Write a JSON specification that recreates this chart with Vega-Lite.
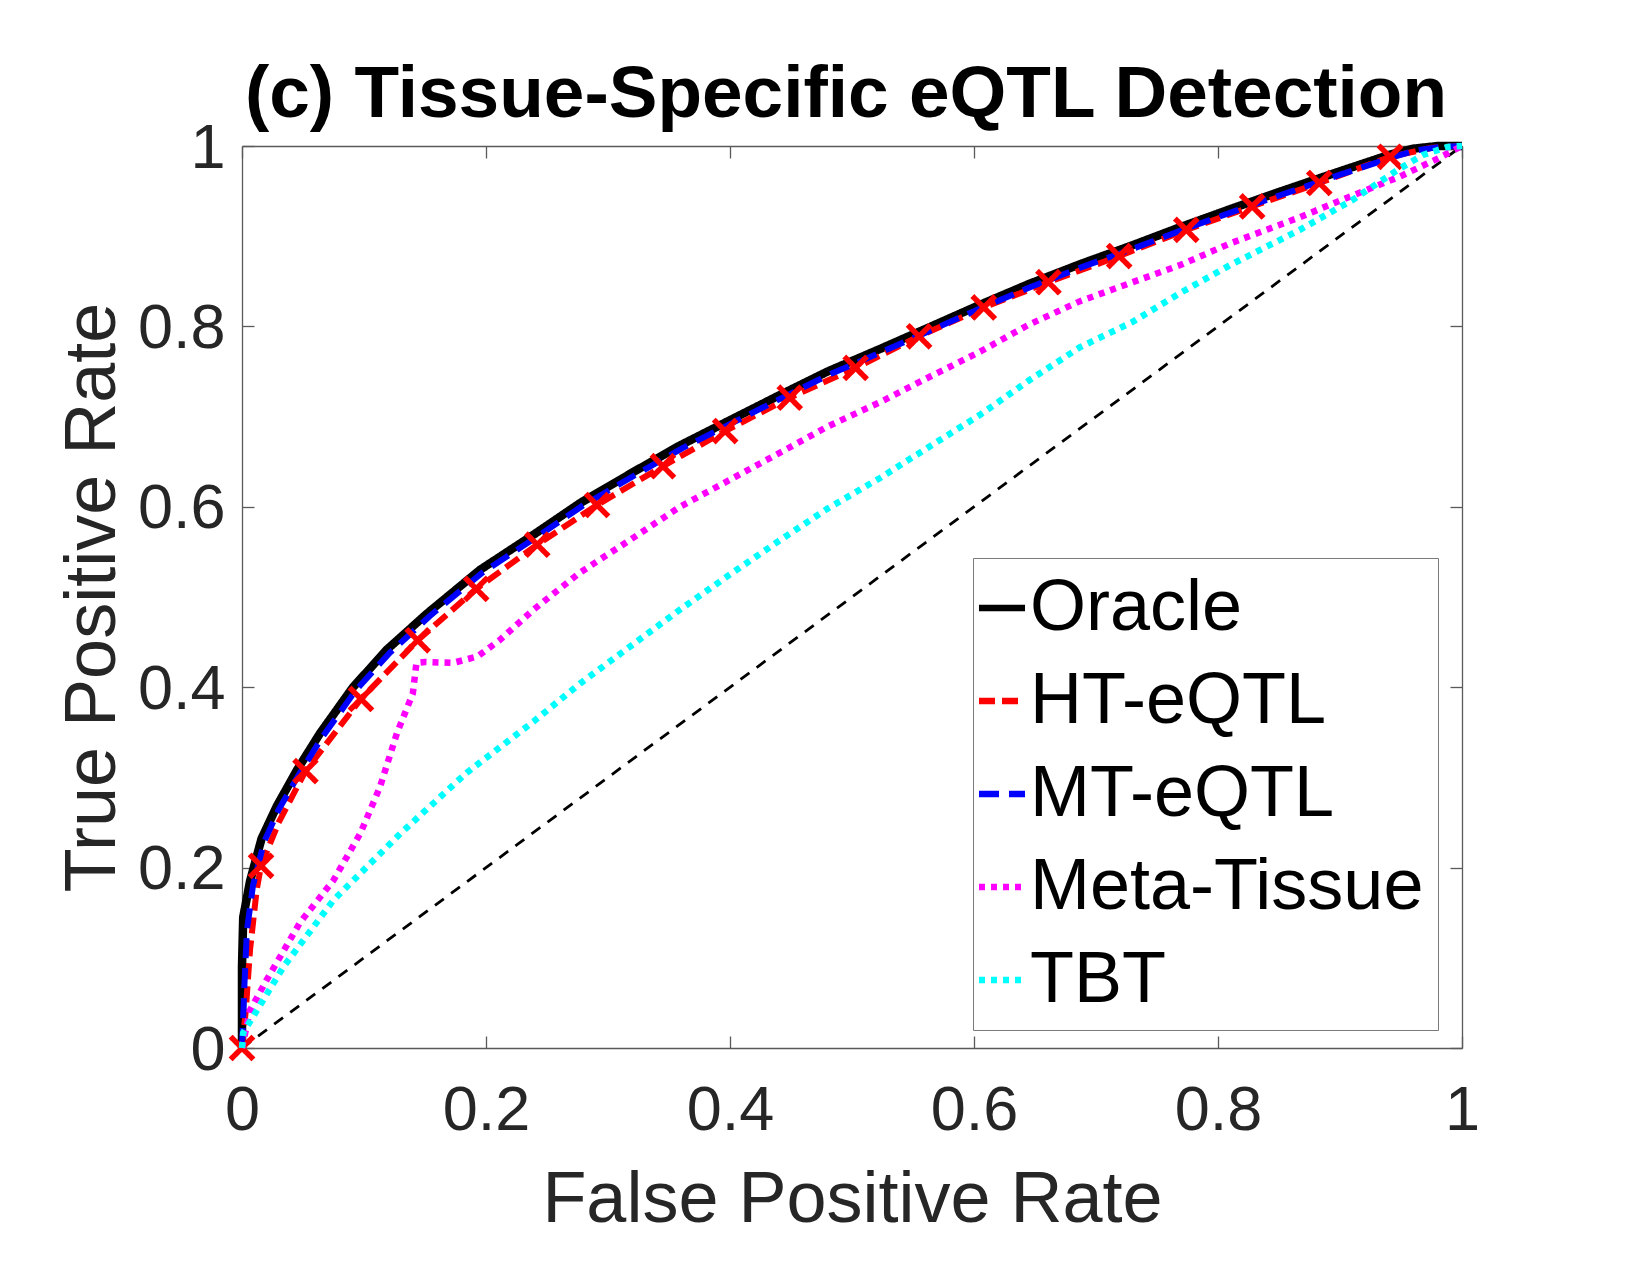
{
  "$schema": "https://vega.github.io/schema/vega-lite/v6.json",
  "width": 1220,
  "height": 902,
  "autosize": {"type": "none"},
  "padding": {"left": 242, "top": 146, "right": 188, "bottom": 227},
  "background": "white",
  "title": {"text": "(c) Tissue-Specific eQTL Detection", "font": "Liberation Sans", "fontSize": 73, "fontWeight": "bold", "color": "#000000", "anchor": "middle", "baseline": "alphabetic", "offset": 30, "dx": -6, "dy": 103},
  "config": {
    "view": {"stroke": null},
    "axis": {
      "grid": false,
      "domainColor": "#5a5a5a",
      "domainWidth": 1.3,
      "tickColor": "#5a5a5a",
      "tickWidth": 1.3,
      "tickSize": -12,
      "labelFont": "Liberation Sans",
      "labelFontSize": 63,
      "labelColor": "#262626",
      "labelFlush": false,
      "labelOverlap": false,
      "titleFont": "Liberation Sans",
      "titleFontSize": 72,
      "titleFontWeight": "normal",
      "titleColor": "#262626"
    }
  },
  "datasets": {
    "diag": [{"fpr": 0, "tpr": 0}, {"fpr": 1, "tpr": 1}],
    "curves": [
      {"series": "Oracle", "fpr": 0, "tpr": 0, "m": 0},
      {"series": "Oracle", "fpr": 0, "tpr": 0.09, "m": 0},
      {"series": "Oracle", "fpr": 0.001, "tpr": 0.145, "m": 0},
      {"series": "Oracle", "fpr": 0.0066, "tpr": 0.185, "m": 0},
      {"series": "Oracle", "fpr": 0.016, "tpr": 0.232, "m": 0},
      {"series": "Oracle", "fpr": 0.0285, "tpr": 0.268, "m": 0},
      {"series": "Oracle", "fpr": 0.045, "tpr": 0.308, "m": 0},
      {"series": "Oracle", "fpr": 0.064, "tpr": 0.349, "m": 0},
      {"series": "Oracle", "fpr": 0.091, "tpr": 0.4, "m": 0},
      {"series": "Oracle", "fpr": 0.119, "tpr": 0.442, "m": 0},
      {"series": "Oracle", "fpr": 0.152, "tpr": 0.482, "m": 0},
      {"series": "Oracle", "fpr": 0.195, "tpr": 0.53, "m": 0},
      {"series": "Oracle", "fpr": 0.24, "tpr": 0.57, "m": 0},
      {"series": "Oracle", "fpr": 0.277, "tpr": 0.604, "m": 0},
      {"series": "Oracle", "fpr": 0.32, "tpr": 0.638, "m": 0},
      {"series": "Oracle", "fpr": 0.359, "tpr": 0.668, "m": 0},
      {"series": "Oracle", "fpr": 0.4, "tpr": 0.696, "m": 0},
      {"series": "Oracle", "fpr": 0.441, "tpr": 0.724, "m": 0},
      {"series": "Oracle", "fpr": 0.48, "tpr": 0.75, "m": 0},
      {"series": "Oracle", "fpr": 0.523, "tpr": 0.775, "m": 0},
      {"series": "Oracle", "fpr": 0.565, "tpr": 0.8, "m": 0},
      {"series": "Oracle", "fpr": 0.605, "tpr": 0.824, "m": 0},
      {"series": "Oracle", "fpr": 0.645, "tpr": 0.847, "m": 0},
      {"series": "Oracle", "fpr": 0.687, "tpr": 0.869, "m": 0},
      {"series": "Oracle", "fpr": 0.73, "tpr": 0.89, "m": 0},
      {"series": "Oracle", "fpr": 0.769, "tpr": 0.91, "m": 0},
      {"series": "Oracle", "fpr": 0.81, "tpr": 0.93, "m": 0},
      {"series": "Oracle", "fpr": 0.85, "tpr": 0.949, "m": 0},
      {"series": "Oracle", "fpr": 0.9, "tpr": 0.972, "m": 0},
      {"series": "Oracle", "fpr": 0.94, "tpr": 0.99, "m": 0},
      {"series": "Oracle", "fpr": 0.96, "tpr": 0.997, "m": 0},
      {"series": "Oracle", "fpr": 0.98, "tpr": 1.0, "m": 0},
      {"series": "Oracle", "fpr": 1, "tpr": 1, "m": 0},

      {"series": "HT-eQTL", "fpr": 0, "tpr": 0, "m": 1},
      {"series": "HT-eQTL", "fpr": 0.003, "tpr": 0.04, "m": 0},
      {"series": "HT-eQTL", "fpr": 0.0066, "tpr": 0.109, "m": 0},
      {"series": "HT-eQTL", "fpr": 0.012, "tpr": 0.175, "m": 0},
      {"series": "HT-eQTL", "fpr": 0.0156, "tpr": 0.202, "m": 1},
      {"series": "HT-eQTL", "fpr": 0.03, "tpr": 0.25, "m": 0},
      {"series": "HT-eQTL", "fpr": 0.052, "tpr": 0.307, "m": 1},
      {"series": "HT-eQTL", "fpr": 0.0975, "tpr": 0.387, "m": 1},
      {"series": "HT-eQTL", "fpr": 0.144, "tpr": 0.452, "m": 1},
      {"series": "HT-eQTL", "fpr": 0.192, "tpr": 0.509, "m": 1},
      {"series": "HT-eQTL", "fpr": 0.242, "tpr": 0.558, "m": 1},
      {"series": "HT-eQTL", "fpr": 0.291, "tpr": 0.602, "m": 1},
      {"series": "HT-eQTL", "fpr": 0.345, "tpr": 0.645, "m": 1},
      {"series": "HT-eQTL", "fpr": 0.396, "tpr": 0.684, "m": 1},
      {"series": "HT-eQTL", "fpr": 0.449, "tpr": 0.721, "m": 1},
      {"series": "HT-eQTL", "fpr": 0.503, "tpr": 0.754, "m": 1},
      {"series": "HT-eQTL", "fpr": 0.555, "tpr": 0.789, "m": 1},
      {"series": "HT-eQTL", "fpr": 0.608, "tpr": 0.821, "m": 1},
      {"series": "HT-eQTL", "fpr": 0.661, "tpr": 0.849, "m": 1},
      {"series": "HT-eQTL", "fpr": 0.719, "tpr": 0.878, "m": 1},
      {"series": "HT-eQTL", "fpr": 0.774, "tpr": 0.907, "m": 1},
      {"series": "HT-eQTL", "fpr": 0.828, "tpr": 0.933, "m": 1},
      {"series": "HT-eQTL", "fpr": 0.883, "tpr": 0.959, "m": 1},
      {"series": "HT-eQTL", "fpr": 0.941, "tpr": 0.988, "m": 1},
      {"series": "HT-eQTL", "fpr": 0.975, "tpr": 0.998, "m": 0},
      {"series": "HT-eQTL", "fpr": 1, "tpr": 1, "m": 0},

      {"series": "MT-eQTL", "fpr": 0, "tpr": 0, "m": 0},
      {"series": "MT-eQTL", "fpr": 0.002, "tpr": 0.07, "m": 0},
      {"series": "MT-eQTL", "fpr": 0.004, "tpr": 0.13, "m": 0},
      {"series": "MT-eQTL", "fpr": 0.009, "tpr": 0.18, "m": 0},
      {"series": "MT-eQTL", "fpr": 0.018, "tpr": 0.228, "m": 0},
      {"series": "MT-eQTL", "fpr": 0.03, "tpr": 0.264, "m": 0},
      {"series": "MT-eQTL", "fpr": 0.047, "tpr": 0.304, "m": 0},
      {"series": "MT-eQTL", "fpr": 0.066, "tpr": 0.345, "m": 0},
      {"series": "MT-eQTL", "fpr": 0.093, "tpr": 0.396, "m": 0},
      {"series": "MT-eQTL", "fpr": 0.121, "tpr": 0.438, "m": 0},
      {"series": "MT-eQTL", "fpr": 0.154, "tpr": 0.479, "m": 0},
      {"series": "MT-eQTL", "fpr": 0.197, "tpr": 0.527, "m": 0},
      {"series": "MT-eQTL", "fpr": 0.242, "tpr": 0.567, "m": 0},
      {"series": "MT-eQTL", "fpr": 0.279, "tpr": 0.601, "m": 0},
      {"series": "MT-eQTL", "fpr": 0.322, "tpr": 0.635, "m": 0},
      {"series": "MT-eQTL", "fpr": 0.361, "tpr": 0.665, "m": 0},
      {"series": "MT-eQTL", "fpr": 0.402, "tpr": 0.693, "m": 0},
      {"series": "MT-eQTL", "fpr": 0.443, "tpr": 0.721, "m": 0},
      {"series": "MT-eQTL", "fpr": 0.482, "tpr": 0.747, "m": 0},
      {"series": "MT-eQTL", "fpr": 0.525, "tpr": 0.772, "m": 0},
      {"series": "MT-eQTL", "fpr": 0.567, "tpr": 0.797, "m": 0},
      {"series": "MT-eQTL", "fpr": 0.607, "tpr": 0.821, "m": 0},
      {"series": "MT-eQTL", "fpr": 0.647, "tpr": 0.844, "m": 0},
      {"series": "MT-eQTL", "fpr": 0.689, "tpr": 0.866, "m": 0},
      {"series": "MT-eQTL", "fpr": 0.732, "tpr": 0.887, "m": 0},
      {"series": "MT-eQTL", "fpr": 0.771, "tpr": 0.907, "m": 0},
      {"series": "MT-eQTL", "fpr": 0.812, "tpr": 0.927, "m": 0},
      {"series": "MT-eQTL", "fpr": 0.852, "tpr": 0.946, "m": 0},
      {"series": "MT-eQTL", "fpr": 0.902, "tpr": 0.969, "m": 0},
      {"series": "MT-eQTL", "fpr": 0.942, "tpr": 0.987, "m": 0},
      {"series": "MT-eQTL", "fpr": 0.962, "tpr": 0.995, "m": 0},
      {"series": "MT-eQTL", "fpr": 0.982, "tpr": 0.999, "m": 0},
      {"series": "MT-eQTL", "fpr": 1, "tpr": 1, "m": 0},

      {"series": "Meta-Tissue", "fpr": 0, "tpr": 0, "m": 0},
      {"series": "Meta-Tissue", "fpr": 0.0066, "tpr": 0.042, "m": 0},
      {"series": "Meta-Tissue", "fpr": 0.02, "tpr": 0.075, "m": 0},
      {"series": "Meta-Tissue", "fpr": 0.0475, "tpr": 0.139, "m": 0},
      {"series": "Meta-Tissue", "fpr": 0.075, "tpr": 0.186, "m": 0},
      {"series": "Meta-Tissue", "fpr": 0.097, "tpr": 0.238, "m": 0},
      {"series": "Meta-Tissue", "fpr": 0.113, "tpr": 0.289, "m": 0},
      {"series": "Meta-Tissue", "fpr": 0.127, "tpr": 0.349, "m": 0},
      {"series": "Meta-Tissue", "fpr": 0.14, "tpr": 0.393, "m": 0},
      {"series": "Meta-Tissue", "fpr": 0.143, "tpr": 0.427, "m": 0},
      {"series": "Meta-Tissue", "fpr": 0.15, "tpr": 0.428, "m": 0},
      {"series": "Meta-Tissue", "fpr": 0.173, "tpr": 0.427, "m": 0},
      {"series": "Meta-Tissue", "fpr": 0.193, "tpr": 0.434, "m": 0},
      {"series": "Meta-Tissue", "fpr": 0.211, "tpr": 0.452, "m": 0},
      {"series": "Meta-Tissue", "fpr": 0.239, "tpr": 0.486, "m": 0},
      {"series": "Meta-Tissue", "fpr": 0.277, "tpr": 0.527, "m": 0},
      {"series": "Meta-Tissue", "fpr": 0.32, "tpr": 0.565, "m": 0},
      {"series": "Meta-Tissue", "fpr": 0.359, "tpr": 0.6, "m": 0},
      {"series": "Meta-Tissue", "fpr": 0.4, "tpr": 0.63, "m": 0},
      {"series": "Meta-Tissue", "fpr": 0.441, "tpr": 0.66, "m": 0},
      {"series": "Meta-Tissue", "fpr": 0.48, "tpr": 0.689, "m": 0},
      {"series": "Meta-Tissue", "fpr": 0.523, "tpr": 0.716, "m": 0},
      {"series": "Meta-Tissue", "fpr": 0.565, "tpr": 0.745, "m": 0},
      {"series": "Meta-Tissue", "fpr": 0.605, "tpr": 0.772, "m": 0},
      {"series": "Meta-Tissue", "fpr": 0.645, "tpr": 0.802, "m": 0},
      {"series": "Meta-Tissue", "fpr": 0.687, "tpr": 0.828, "m": 0},
      {"series": "Meta-Tissue", "fpr": 0.73, "tpr": 0.849, "m": 0},
      {"series": "Meta-Tissue", "fpr": 0.769, "tpr": 0.868, "m": 0},
      {"series": "Meta-Tissue", "fpr": 0.81, "tpr": 0.892, "m": 0},
      {"series": "Meta-Tissue", "fpr": 0.867, "tpr": 0.921, "m": 0},
      {"series": "Meta-Tissue", "fpr": 0.91, "tpr": 0.945, "m": 0},
      {"series": "Meta-Tissue", "fpr": 0.949, "tpr": 0.966, "m": 0},
      {"series": "Meta-Tissue", "fpr": 0.98, "tpr": 0.986, "m": 0},
      {"series": "Meta-Tissue", "fpr": 1, "tpr": 1, "m": 0},

      {"series": "TBT", "fpr": 0, "tpr": 0, "m": 0},
      {"series": "TBT", "fpr": 0.001, "tpr": 0.017, "m": 0},
      {"series": "TBT", "fpr": 0.034, "tpr": 0.09, "m": 0},
      {"series": "TBT", "fpr": 0.075, "tpr": 0.164, "m": 0},
      {"series": "TBT", "fpr": 0.13, "tpr": 0.238, "m": 0},
      {"series": "TBT", "fpr": 0.184, "tpr": 0.305, "m": 0},
      {"series": "TBT", "fpr": 0.239, "tpr": 0.362, "m": 0},
      {"series": "TBT", "fpr": 0.277, "tpr": 0.404, "m": 0},
      {"series": "TBT", "fpr": 0.32, "tpr": 0.447, "m": 0},
      {"series": "TBT", "fpr": 0.359, "tpr": 0.486, "m": 0},
      {"series": "TBT", "fpr": 0.4, "tpr": 0.525, "m": 0},
      {"series": "TBT", "fpr": 0.441, "tpr": 0.563, "m": 0},
      {"series": "TBT", "fpr": 0.48, "tpr": 0.598, "m": 0},
      {"series": "TBT", "fpr": 0.523, "tpr": 0.632, "m": 0},
      {"series": "TBT", "fpr": 0.565, "tpr": 0.668, "m": 0},
      {"series": "TBT", "fpr": 0.605, "tpr": 0.702, "m": 0},
      {"series": "TBT", "fpr": 0.645, "tpr": 0.74, "m": 0},
      {"series": "TBT", "fpr": 0.687, "tpr": 0.777, "m": 0},
      {"series": "TBT", "fpr": 0.73, "tpr": 0.805, "m": 0},
      {"series": "TBT", "fpr": 0.769, "tpr": 0.837, "m": 0},
      {"series": "TBT", "fpr": 0.81, "tpr": 0.868, "m": 0},
      {"series": "TBT", "fpr": 0.867, "tpr": 0.907, "m": 0},
      {"series": "TBT", "fpr": 0.91, "tpr": 0.94, "m": 0},
      {"series": "TBT", "fpr": 0.949, "tpr": 0.975, "m": 0},
      {"series": "TBT", "fpr": 0.968, "tpr": 0.99, "m": 0},
      {"series": "TBT", "fpr": 0.988, "tpr": 0.999, "m": 0},
      {"series": "TBT", "fpr": 1, "tpr": 1, "m": 0}
    ]
  },
  "layer": [
    {
      "data": {"name": "diag"},
      "mark": {"type": "line", "color": "#000000", "strokeWidth": 2.8, "strokeDash": [11, 9], "clip": true},
      "encoding": {
        "x": {"field": "fpr", "type": "quantitative", "scale": {"domain": [0, 1], "nice": false, "zero": false},
              "axis": {"orient": "top", "labels": false, "title": null, "values": [0, 0.2, 0.4, 0.6, 0.8, 1]}},
        "y": {"field": "tpr", "type": "quantitative", "scale": {"domain": [0, 1], "nice": false, "zero": false},
              "axis": {"orient": "right", "labels": false, "title": null, "values": [0, 0.2, 0.4, 0.6, 0.8, 1]}}
      }
    },
    {
      "data": {"name": "curves"},
      "encoding": {
        "x": {"field": "fpr", "type": "quantitative", "scale": {"domain": [0, 1], "nice": false, "zero": false},
              "axis": {"orient": "bottom", "title": "False Positive Rate", "values": [0, 0.2, 0.4, 0.6, 0.8, 1], "format": "~g",
                       "labelPadding": 43, "titleY": 173, "titleBaseline": "alphabetic"}},
        "y": {"field": "tpr", "type": "quantitative", "scale": {"domain": [0, 1], "nice": false, "zero": false},
              "axis": {"orient": "left", "title": "True Positive Rate", "values": [0, 0.2, 0.4, 0.6, 0.8, 1], "format": "~g",
                       "labelPadding": 29, "labelOffset": 2, "titleX": -128, "titleY": 451, "titleBaseline": "alphabetic", "titleAngle": -90, "titleAlign": "center"}},
        "color": {"field": "series", "type": "nominal",
                  "scale": {"domain": ["Oracle", "HT-eQTL", "MT-eQTL", "Meta-Tissue", "TBT"], "range": ["#000000", "#ff0000", "#0000ff", "#ff00ff", "#00ffff"]},
                  "legend": {"title": null, "orient": "none", "legendX": 731, "legendY": 412, "strokeColor": "#7a7a7a", "fillColor": "#ffffff", "padding": 14,
                             "labelFont": "Liberation Sans", "labelFontSize": 72, "labelColor": "#000000", "labelLimit": 0, "labelOffset": -8,
                             "symbolType": "stroke", "symbolSize": 2116, "symbolStrokeWidth": 6.5, "symbolOffset": -21, "rowPadding": 21}},
        "strokeDash": {"field": "series", "type": "nominal",
                       "scale": {"domain": ["Oracle", "HT-eQTL", "MT-eQTL", "Meta-Tissue", "TBT"], "range": [[1, 0], [16, 7], [20, 10], [6, 6], [6, 6]]},
                       "legend": {"title": null, "orient": "none", "legendX": 731, "legendY": 412, "strokeColor": "#7a7a7a", "fillColor": "#ffffff", "padding": 14,
                             "labelFont": "Liberation Sans", "labelFontSize": 72, "labelColor": "#000000", "labelLimit": 0, "labelOffset": -8,
                             "symbolType": "stroke", "symbolSize": 2116, "symbolStrokeWidth": 6.5, "symbolOffset": -21, "rowPadding": 21}}
      },
      "layer": [
        {"transform": [{"filter": "datum.series === 'Oracle'"}], "mark": {"type": "line", "strokeWidth": 8.5}},
        {"transform": [{"filter": "datum.series === 'HT-eQTL'"}], "mark": {"type": "line", "strokeWidth": 6}},
        {"transform": [{"filter": "datum.series === 'MT-eQTL'"}], "mark": {"type": "line", "strokeWidth": 6}},
        {"transform": [{"filter": "datum.series === 'HT-eQTL' && datum.m === 1"}],
         "mark": {"type": "point", "shape": "M-1,-1L1,1M-1,1L1,-1", "filled": false, "strokeWidth": 5.5, "size": 520, "opacity": 1},
         "encoding": {"strokeDash": {"value": [1, 0]}}},
        {"transform": [{"filter": "datum.series === 'Meta-Tissue'"}], "mark": {"type": "line", "strokeWidth": 6.5}},
        {"transform": [{"filter": "datum.series === 'TBT'"}], "mark": {"type": "line", "strokeWidth": 6.5}}
      ]
    }
  ],
  "resolve": {"axis": {"x": "independent", "y": "independent"}}
}
